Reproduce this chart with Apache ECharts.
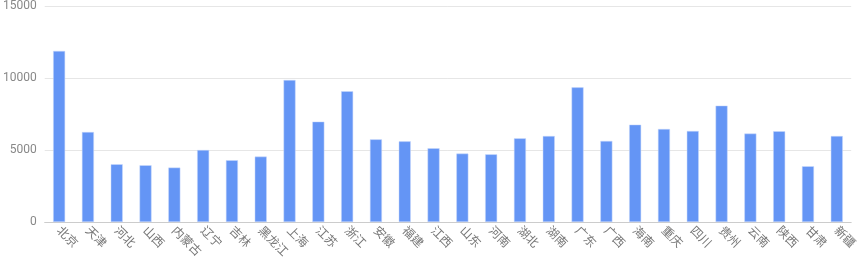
<!DOCTYPE html>
<html><head><meta charset="utf-8">
<script src="https://cdn.jsdelivr.net/npm/echarts@6/dist/echarts.min.js"></script>
<style>html,body{margin:0;padding:0;background:#fff}#c{width:860px;height:260px}</style>
</head><body><div id="c"></div>
<script>
const categories = ['北京','天津','河北','山西','内蒙古','辽宁','吉林','黑龙江','上海','江苏','浙江','安徽','福建','江西','山东','河南','湖北','湖南','广东','广西','海南','重庆','四川','贵州','云南','陕西','甘肃','新疆'];
const values = [11880,6250,4010,3940,3780,5000,4290,4540,9860,6970,9080,5740,5600,5120,4750,4700,5810,5970,9350,5630,6760,6460,6320,8080,6140,6300,3870,5970];
const yTicks = {min:0, max:15000, interval:5000};
const chart = echarts.init(document.getElementById('c'));
chart.setOption({
  animation:false,
  grid:{left:41,right:6,top:6,bottom:38,containLabel:false},
  xAxis:{type:'category',data:categories,
    axisLine:{lineStyle:{color:'#ccc'}},
    axisTick:{alignWithLabel:true,lineStyle:{color:'#ccc'}},
    axisLabel:{rotate:-45,interval:0,color:'#777',fontSize:12,fontFamily:'Noto Sans CJK SC',margin:6}},
  yAxis:{type:'value',min:yTicks.min,max:yTicks.max,interval:yTicks.interval,
    axisLabel:{color:'#888',fontSize:12,fontFamily:'Roboto',margin:8,formatter:function(v){return String(v);}},
    splitLine:{lineStyle:{color:'#e6e6e6'}}},
  series:[{type:'bar',data:values,barWidth:12,
    itemStyle:{color:'#6495F5',borderColor:'#c8d9fb',borderWidth:0.5}}]
});
</script></body></html>
